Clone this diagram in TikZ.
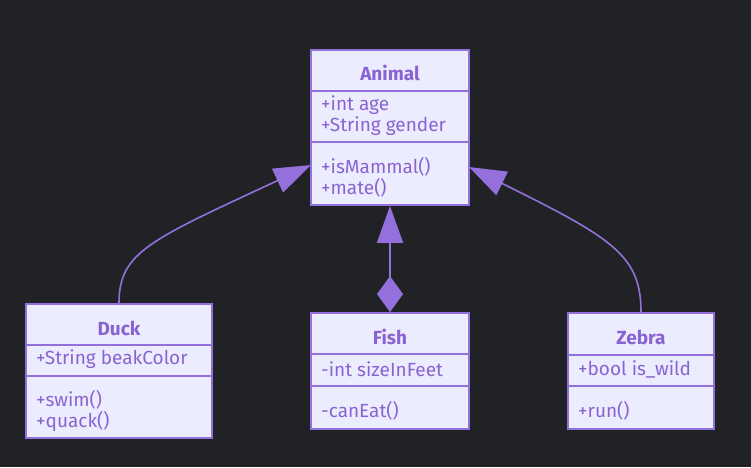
\documentclass[tikz,border=0pt]{standalone}
\usepackage{fontspec}
\setmainfont{Fira Sans}
\usetikzlibrary{arrows.meta, calc}
\definecolor{bgDark}{HTML}{212225}
\definecolor{clsFill}{HTML}{ECECFF}
\definecolor{clsLine}{HTML}{9370DB}
\definecolor{clsText}{HTML}{8A63D2}
\tikzset{
  cls/.style={draw=clsLine, line width=1.8pt, fill=clsFill, inner sep=0pt},
  ttl/.style={font=\fontsize{19}{21}\selectfont\bfseries, text=clsText, inner sep=0pt},
  mbr/.style={font=\fontsize{19}{21}\selectfont, text=clsText, anchor=west, align=left, inner sep=0pt},
  sepline/.style={draw=clsLine, line width=1.8pt},
  link/.style={draw=clsLine, line width=1.6pt},
  inherit/.style={link, -{Triangle[length=37pt, width=26pt]}},
  compose/.style={link, {Diamond[length=36pt, width=26pt]}-{Triangle[length=37pt, width=26pt]}},
}

\begin{document}
\begin{tikzpicture}[x=1pt, y=-1pt]

\path[use as bounding box, fill=bgDark] (0,0) rectangle (751,467);

% ── class boxes ──────────────────────────────────────────────────────────────
\node[cls, minimum width=158pt, minimum height=155pt] (animal) at (390, 127.5) {};
\node[cls, minimum width=186pt, minimum height=134pt] (duck) at (119, 371) {};
\node[cls, minimum width=158pt, minimum height=116pt] (fish) at (390, 371) {};
\node[cls, minimum width=146pt, minimum height=116pt] (zebra) at (641, 371) {};

% compartment lines
\draw[sepline] ($(animal.north west)+(0,42)$) -- ($(animal.north east)+(0,42)$);
\draw[sepline] ($(animal.north west)+(0,93)$) -- ($(animal.north east)+(0,93)$);
\draw[sepline] ($(duck.north west)+(0,42)$) -- ($(duck.north east)+(0,42)$);
\draw[sepline] ($(duck.north west)+(0,73)$) -- ($(duck.north east)+(0,73)$);
\draw[sepline] ($(fish.north west)+(0,42)$) -- ($(fish.north east)+(0,42)$);
\draw[sepline] ($(fish.north west)+(0,74)$) -- ($(fish.north east)+(0,74)$);
\draw[sepline] ($(zebra.north west)+(0,43)$) -- ($(zebra.north east)+(0,43)$);
\draw[sepline] ($(zebra.north west)+(0,74)$) -- ($(zebra.north east)+(0,74)$);

% ── texts ────────────────────────────────────────────────────────────────────
\node[ttl] (animalT) at (390, 73) {Animal};
\node[mbr] (animalA) at (321, 116) {+int age\\+String gender};
\node[mbr] (animalM) at (321, 177) {+isMammal()\\+mate()};

\node[ttl] (duckT) at (119, 328) {Duck};
\node[mbr] (duckA) at (36, 359.5) {+String beakColor};
\node[mbr] (duckM) at (36, 411) {+swim()\\+quack()};

\node[ttl] (fishT) at (390, 337) {Fish};
\node[mbr] (fishA) at (321, 369.5) {-int sizeInFeet};
\node[mbr] (fishM) at (321, 411) {-canEat()};

\node[ttl] (zebraT) at (641, 337) {Zebra};
\node[mbr] (zebraA) at (578, 369.5) {+bool is\_wild};
\node[mbr] (zebraM) at (578, 411) {+run()};

% ── relations ────────────────────────────────────────────────────────────────
\coordinate (animalL) at (311, 165);
\coordinate (animalR) at (469, 167);
\draw[inherit] (duck.north) .. controls (119, 252) and (150, 240) .. (animalL);
\draw[inherit] (zebra.north) .. controls (641, 255) and (612, 238) .. (animalR);
\draw[compose] (fish.north) -- (animal.south);

\end{tikzpicture}
\end{document}
